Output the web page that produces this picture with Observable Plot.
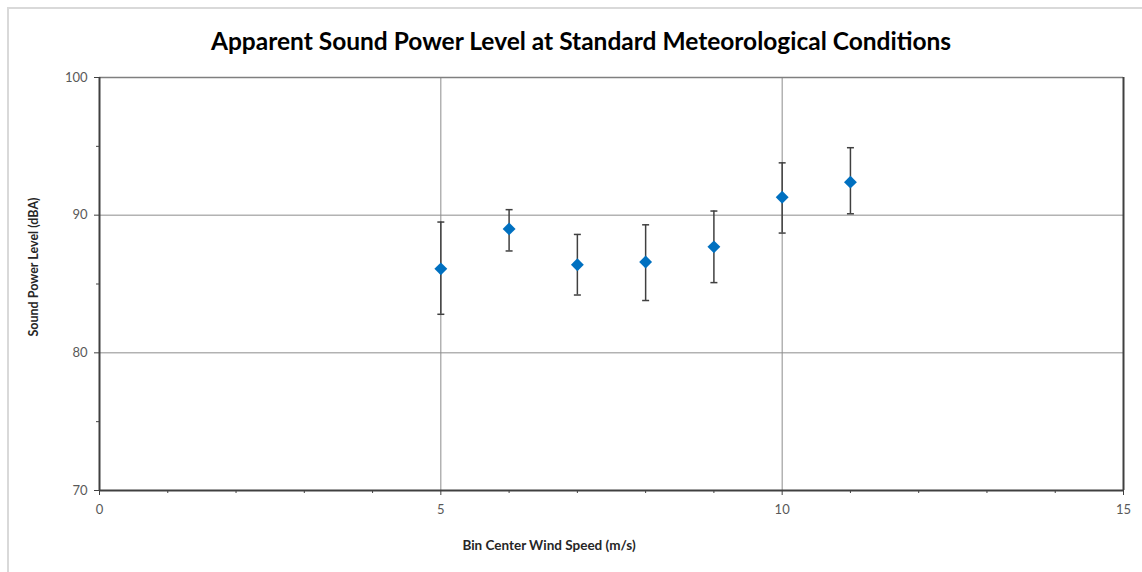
<!DOCTYPE html>
<html>
<head>
<meta charset="utf-8">
<script src="https://cdn.jsdelivr.net/npm/d3@7"></script>
<script src="https://cdn.jsdelivr.net/npm/@observablehq/plot@0.6"></script>
<style>
  html, body { margin: 0; padding: 0; background: #fff; overflow: hidden; }
  #wrap { position: relative; width: 1142px; height: 572px; overflow: hidden; font-family: Lato, "Open Sans", sans-serif; }
  #frame { position: absolute; left: 7px; top: 7px; width: 1200px; height: 700px; border: 2px solid #d9d9d9; box-sizing: border-box; }
  #title { position: absolute; left: 0; width: 1162px; top: 26px; text-align: center; font-size: 24.5px; font-weight: bold; color: #000; line-height: 30px; }
  #xlabel { position: absolute; left: 449px; width: 200px; top: 537px; text-align: center; font-size: 13.5px; font-weight: bold; color: #262626; line-height: 16px; }
  #ylabel { position: absolute; left: -66px; width: 200px; top: 259px; text-align: center; font-size: 12.5px; font-weight: bold; color: #262626; line-height: 16px; transform: rotate(-90deg); }
  #chart { position: absolute; left: 0; top: 0; }
</style>
</head>
<body>
<div id="wrap">
  <div id="frame"></div>
  <div id="chart"></div>
  <div id="title">Apparent Sound Power Level at Standard Meteorological Conditions</div>
  <div id="xlabel">Bin Center Wind Speed (m/s)</div>
  <div id="ylabel">Sound Power Level (dBA)</div>
</div>
<script>
// Data
const windSpeeds = [5, 6, 7, 8, 9, 10, 11];
const soundLevels = [86.1, 89.0, 86.4, 86.6, 87.7, 91.3, 92.4];
const upperBounds = [89.5, 90.4, 88.6, 89.3, 90.3, 93.8, 94.9];
const lowerBounds = [82.8, 87.4, 84.2, 83.8, 85.1, 88.7, 90.1];

const xTicks = [0, 5, 10, 15];
const xMinorTicks = [1, 2, 3, 4, 6, 7, 8, 9, 11, 12, 13, 14];
const yTicks = [70, 80, 90, 100];
const yMinorTicks = [75, 85, 95];
const xGrid = [5, 10];
const yGrid = [80, 90];

const rows = windSpeeds.map((s, i) => ({
  speed: s, level: soundLevels[i], hi: upperBounds[i], lo: lowerBounds[i]
}));

const capSymbol = {
  draw(context, size) {
    const w = 3.5;
    context.moveTo(-w, 0);
    context.lineTo(w, 0);
  }
};

const axisColor = "#404040";
const labelColor = "#595959";

const chart = Plot.plot({
  width: 1142,
  height: 572,
  marginLeft: 99,
  marginRight: 19,
  marginTop: 77,
  marginBottom: 82,
  style: { fontFamily: "Lato, 'Open Sans', sans-serif", background: "transparent", overflow: "visible" },
  x: { domain: [0, 15] },
  y: { domain: [70, 100] },
  marks: [
    Plot.gridY(yGrid, { stroke: "#8c8c8c", strokeOpacity: 1, strokeWidth: 1 }),
    Plot.gridX(xGrid, { stroke: "#8c8c8c", strokeOpacity: 1, strokeWidth: 1 }),
    Plot.ruleY([100], { stroke: "#7f7f7f", strokeWidth: 1.5 }),
    Plot.ruleX([15], { stroke: axisColor, strokeWidth: 2 }),
    Plot.axisY(yTicks, { tickSize: 5, tickPadding: 7, fontSize: 13, stroke: axisColor, fill: labelColor, label: null }),
    Plot.axisY(yMinorTicks, { tickSize: 3, tickFormat: () => "", stroke: axisColor, label: null }),
    Plot.axisX(xTicks, { tickSize: 5, tickPadding: 9, fontSize: 13, stroke: axisColor, fill: labelColor, label: null }),
    Plot.axisX(xMinorTicks, { tickSize: 3, tickFormat: () => "", stroke: axisColor, label: null }),
    Plot.ruleX([0], { stroke: axisColor, strokeWidth: 2 }),
    Plot.ruleY([70], { stroke: axisColor, strokeWidth: 2 }),
    Plot.ruleX(rows, { x: "speed", y1: "lo", y2: "hi", stroke: axisColor, strokeWidth: 1.5 }),
    Plot.dot(rows, { x: "speed", y: "hi", symbol: capSymbol, stroke: axisColor, strokeWidth: 1.5, r: 3 }),
    Plot.dot(rows, { x: "speed", y: "lo", symbol: capSymbol, stroke: axisColor, strokeWidth: 1.5, r: 3 }),
    Plot.dot(rows, { x: "speed", y: "level", symbol: "diamond2", fill: "#0070C0", stroke: "none", r: 5.8 })
  ]
});

document.getElementById("chart").appendChild(chart);
</script>
</body>
</html>
